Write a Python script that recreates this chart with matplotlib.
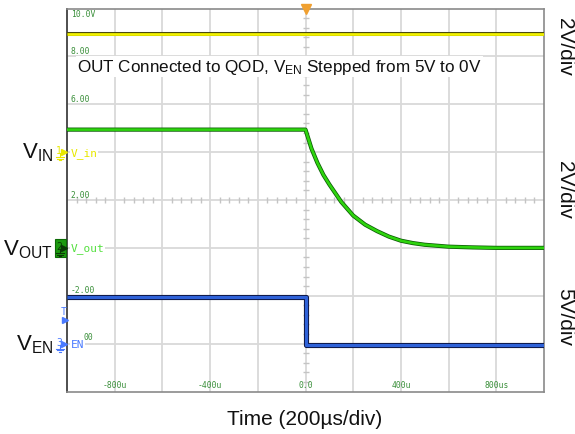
import matplotlib
matplotlib.use("Agg")
import matplotlib.pyplot as plt
import numpy as np

plt.rcParams['font.family'] = ['Liberation Sans', 'DejaVu Sans']
plt.rcParams['mathtext.fontset'] = 'custom'
plt.rcParams['mathtext.rm'] = 'Liberation Sans'
plt.rcParams['mathtext.it'] = 'Liberation Sans'

# ---- data (time in microseconds, voltages in volts) ----
vin_t = [-1000, 1000]
vin_v = [4.95, 4.95]

vout_t = [-1000, 0, 25, 50, 75, 100, 150, 200, 250, 300, 350, 400, 450, 500, 600, 700, 800, 1000]
vout_v = [4.94, 4.94, 4.15, 3.55, 3.05, 2.65, 1.92, 1.35, 0.97, 0.70, 0.47, 0.30, 0.20, 0.13, 0.05, 0.02, 0.0, 0.0]

ven_t = [-1000, 0, 0, 1000]
ven_v = [4.9, 4.9, -0.12, -0.12]

# channel scale (V/div) and ground offset (div from bottom)
ch_scale = {"in": 2.0, "out": 2.0, "en": 5.0}
ch_offset = {"in": 5.0, "out": 3.0, "en": 1.0}

time_ticks = [-800, -400, 0, 400, 800]
time_labels = ["-800u", "-400u", "0.0", "400u", "800us"]
grid_label_divs = [7, 6, 4, 2]
grid_labels = ["8.00", "6.00", "2.00", "-2.00"]

W, H = 575, 435
fig = plt.figure(figsize=(W / 100, H / 100), dpi=100)
L, R, T, B = 67, 544, 9.5, 392.5
ax = fig.add_axes([L / W, 1 - B / H, (R - L) / W, (B - T) / H])
ax.set_xlim(-1000, 1000)
ax.set_ylim(0, 8)
ax.set_xticks([])
ax.set_yticks([])
for s in ['top', 'right', 'bottom']:
    ax.spines[s].set_color('#8a8a8a')
    ax.spines[s].set_linewidth(1.2)
ax.spines['left'].set_color('#404040')
ax.spines['left'].set_linewidth(1.3)

# grid
for xv in np.arange(-800, 1000, 200):
    ax.axvline(xv, color='#d9d9d9', lw=1.3, zorder=0)
for yv in range(1, 8):
    ax.axhline(yv, color='#d9d9d9', lw=1.3, zorder=0)
# center-line ticks
tx = [v for v in np.arange(-1000, 1001, 40) if v % 200 != 0]
ax.plot(tx, [4] * len(tx), ls='none', marker='|', ms=4, color='#c4c4c4', mew=1, zorder=0)
ty = [v for v in np.arange(0, 8.01, 0.2) if abs(v - round(v)) > 1e-6]
ax.plot([0] * len(ty), ty, ls='none', marker='_', ms=4, color='#c4c4c4', mew=1, zorder=0)

def div(ch, v):
    return [ch_offset[ch] + x / ch_scale[ch] for x in v]

# traces
ax.plot(vin_t, div("in", vin_v), color='#4a4a10', lw=2.9, zorder=3, solid_capstyle='butt')
ax.plot(vin_t, div("in", vin_v), color='#f2f200', lw=2.0, zorder=3.1, solid_capstyle='butt')
ax.plot(vout_t, div("out", vout_v), color='#0b5a05', lw=3.0, zorder=3, solid_capstyle='butt')
ax.plot(vout_t, div("out", vout_v), color='#2ed40e', lw=1.9, zorder=3.1, solid_capstyle='butt')
ax.plot(ven_t, div("en", ven_v), color='#0c1440', lw=3.7, zorder=3, solid_capstyle='butt')
ax.plot(ven_t, div("en", ven_v), color='#2f62d8', lw=2.3, zorder=3.1, solid_capstyle='butt')

mono = 'DejaVu Sans Mono'
gcol = '#3a8f3a'
# grid value labels
ax.text(-985, 7.98, "10.0V", family=mono, fontsize=5.8, color=gcol, va='top', ha='left', zorder=2)
for d, lab in zip(grid_label_divs, grid_labels):
    ax.text(-985, d + 0.03, lab, family=mono, fontsize=5.8, color=gcol, va='bottom', ha='left', zorder=2)
for t, lab in zip(time_ticks, time_labels):
    ax.text(t, 0.05, lab, family=mono, fontsize=5.8, color=gcol, va='bottom', ha='center', zorder=2)

# channel labels
ax.text(-985, 5, "V_in", family=mono, fontsize=8, color='#e8e800', va='center', ha='left',
        bbox=dict(fc='white', ec='none', pad=0.5), zorder=2)
ax.text(-985, 3, "V_out", family=mono, fontsize=8, color='#55e040', va='center', ha='left',
        bbox=dict(fc='white', ec='none', pad=0.5), zorder=2)
ax.text(-985, 1, "EN", family=mono, fontsize=8, color='#4a7aff', va='center', ha='left',
        bbox=dict(fc='white', ec='none', pad=0.5), zorder=2)
ax.text(-930, 1.05, "00", family=mono, fontsize=5.8, color=gcol, va='bottom', ha='left', zorder=2)

# trigger marker at top
ax.plot([0], [8], marker='v', ms=7, color='#f0a030', clip_on=False, zorder=5)

def fx(x):
    return x / W
def fy(y):
    return 1 - y / H

# left-hand channel markers
def marker(y, num, col, boxed=False):
    if boxed:
        fig.patches.append(plt.Rectangle((fx(55), fy(y + 9)), 11 / W, 18 / H, transform=fig.transFigure,
                                         fc='#1c9a10', ec='#0c6a05', lw=0.8, figure=fig))
        tcol = '#0a3a05'
    else:
        tcol = col
    fig.text(fx(59), fy(y - 2), num, fontsize=7, color=tcol, ha='center', va='center', family=mono)
    fig.lines.append(plt.Line2D([fx(64)], [fy(y)], marker='>', ms=4, color=tcol, transform=fig.transFigure))
    gx = 60
    for i, w in enumerate([4, 2.6, 1.2]):
        yy = y + 5 + i * 1.6
        fig.lines.append(plt.Line2D([fx(gx - w), fx(gx + w)], [fy(yy), fy(yy)], color=tcol, lw=0.8,
                                    transform=fig.transFigure))
    fig.lines.append(plt.Line2D([fx(gx), fx(gx)], [fy(y + 1), fy(y + 5)], color=tcol, lw=0.8,
                                transform=fig.transFigure))

marker(153, "1", '#e8e800')
marker(249, "2", '#1c9a10', boxed=True)
marker(344.6, "3", '#4a7aff')
fig.text(fx(64), fy(312), "T", fontsize=7, color='#4a7aff', ha='center', va='center', family=mono)
fig.lines.append(plt.Line2D([fx(65)], [fy(321)], marker='>', ms=4, color='#4a7aff', transform=fig.transFigure))

# big left labels
fig.text(fx(53), fy(158), r"$\mathrm{V}_{\mathrm{IN}}$", fontsize=16, ha='right', va='baseline', color='#111111')
fig.text(fx(53), fy(255), r"$\mathrm{V}_{\mathrm{OUT}}$", fontsize=16, ha='right', va='baseline', color='#111111')
fig.text(fx(53), fy(350), r"$\mathrm{V}_{\mathrm{EN}}$", fontsize=16, ha='right', va='baseline', color='#111111')

# subtitle
fig.text(fx(77), fy(72), r"OUT Connected to QOD, $\mathrm{V}_{\mathrm{EN}}$ Stepped from 5V to 0V",
         fontsize=12.3, ha='left', va='baseline', color='#111111',
         bbox=dict(fc='white', ec='none', pad=1))

# right scale labels
fig.text(fx(565), fy(47), "2V/div", fontsize=15, rotation=-90, ha='center', va='center', color='#111111')
fig.text(fx(565), fy(190), "2V/div", fontsize=15, rotation=-90, ha='center', va='center', color='#111111')
fig.text(fx(565), fy(317), "5V/div", fontsize=15, rotation=-90, ha='center', va='center', color='#111111')

# x label
fig.text(fx(305), fy(420), "Time (200µs/div)", fontsize=15, ha='center', va='center', color='#111111')

fig.savefig("out.png", dpi=100)
